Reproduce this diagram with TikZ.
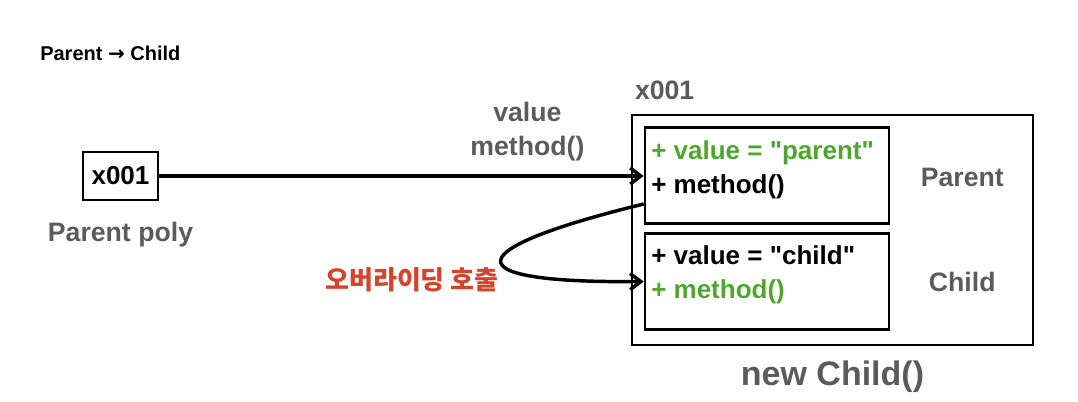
\documentclass[tikz,border=0pt]{standalone}
\usepackage{fontspec}
\setmainfont{Liberation Sans}
\newfontfamily\symfont{DejaVu Sans}
\newfontfamily\krfont{Noto Sans CJK KR}
\usepackage{tikz}
\usetikzlibrary{arrows.meta, positioning, calc}
\definecolor{labelgray}{HTML}{5B5B5B}
\definecolor{overgreen}{HTML}{4FA62C}
\definecolor{callred}{HTML}{D6432C}

\begin{document}
\begin{tikzpicture}[x=0.75pt, y=-0.75pt,
    refbox/.style={rectangle, draw, line width=1.9pt, minimum width=56pt, minimum height=36pt, inner sep=0pt, font=\bfseries\fontsize{19.5}{23}\selectfont},
    membox/.style={rectangle, draw, line width=1.9pt, minimum width=183pt, minimum height=72pt},
    objbox/.style={rectangle, draw, line width=1.9pt, minimum width=300.75pt, minimum height=172.5pt},
    member/.style={anchor=base west, inner sep=0pt, font=\bfseries\fontsize{19.5}{23}\selectfont},
    tag/.style={text=labelgray, inner sep=0pt, font=\bfseries\fontsize{20}{25.5}\selectfont},
    link/.style={line width=2.6pt, -{Straight Barb[length=8pt, width=12pt]}}]
    \useasboundingbox (0,0) rectangle (1078,402);

    \node [anchor=west, inner sep=0pt, font=\bfseries\fontsize{15}{18}\selectfont] (title) at (40,53) {Parent {\symfont\bfseries →} Child};

    % reference variable
    \node [refbox] (ref) at (120.5,176) {x001};
    \node [tag, below=15.5pt of ref] (refname) {Parent poly};

    % instance
    \node [objbox] (obj) at (832.5,230) {};
    \node [membox] (pbox) at (767,175.5) {};
    \node [membox] (cbox) at (767,281.5) {};
    \node [tag, above right=10.5pt and 3pt of obj.north west] (addr) {x001};
    \node [tag, below=11pt of obj, font=\bfseries\fontsize{25.5}{30}\selectfont] (newchild) {new Child()};

    \node [member, text=overgreen] (pvalue) at (651,160) {+ value = \textquotedbl parent\textquotedbl};
    \node [member] (pmethod) at (651,194) {+ method()};
    \node [member] (cvalue) at (651,265) {+ value = \textquotedbl child\textquotedbl};
    \node [member, text=overgreen] (cmethod) at (651,299) {+ method()};

    \node [tag] (pname) at ($(pbox.east)!0.5!(pbox.east -| obj.east)+(0,2)$) {Parent};
    \node [tag] (cname) at ($(cbox.east)!0.5!(cbox.east -| obj.east)$) {Child};

    \node [text=callred, inner sep=0pt, font=\krfont\bfseries\fontsize{19.5}{23}\selectfont] (override) at (412,280) {오버라이딩 호출};

    \draw [link] (ref.east) -- node[tag, pos=0.76, above=10pt, align=center]{value\\method()} (ref.east -| pbox.west);
    \draw [link] ($(pbox.west)+(0,28.5)$) .. controls +(-185,45) and +(-195,2) .. (cbox.west);
\end{tikzpicture}
\end{document}
